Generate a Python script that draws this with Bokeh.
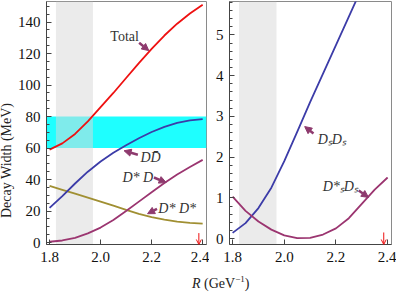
from bokeh.plotting import figure
from bokeh.models import (Range1d, SingleIntervalTicker, FixedTicker, PrintfTickFormatter,
                          Arrow, NormalHead, OpenHead, Div, BoxAnnotation)
from bokeh.layouts import row, column
from bokeh.core.properties import value
from bokeh.embed import file_html
from bokeh.resources import INLINE

# ---------------- data ----------------
R = [1.80, 1.85, 1.90, 1.95, 2.00, 2.05, 2.10, 2.15, 2.20, 2.25, 2.30, 2.35, 2.40]
total =       [59.0, 63.0, 69.0, 77.0, 86.0, 95.0, 104.5, 114.0, 123.0, 131.5, 139.0, 145.5, 151.0]
dd_bar =      [22.0, 29.5, 37.5, 45.0, 51.5, 57.0, 61.8, 66.2, 70.2, 73.5, 76.0, 77.6, 78.4]
dstar_d =     [0.5, 1.3, 3.0, 5.8, 9.5, 14.3, 20.0, 26.0, 32.0, 37.8, 43.2, 48.0, 52.5]
dstar_dstar = [36.0, 33.5, 31.0, 28.5, 26.0, 23.4, 20.7, 18.2, 16.2, 14.6, 13.3, 12.5, 12.0]
ds_ds =       [0.14, 0.38, 0.75, 1.25, 1.90, 2.62, 3.35, 4.05, 4.75, 5.45, 6.15, 6.80, 7.40]
dsstar_ds =   [1.03, 0.68, 0.42, 0.22, 0.08, 0.01, 0.02, 0.10, 0.25, 0.50, 0.85, 1.20, 1.50]

x_ticks = [1.8, 2.0, 2.2, 2.4]
exp_band = [60, 80]          # cyan band (MeV)
r_band = [1.825, 1.97]       # gray band in R
r_mark = 2.385               # red arrow position

# label annotations: (text, x, y) and arrows (x0, y0, x1, y1)
total_label = ("Total", 2.094, 130.6)
total_arrow = (2.151, 126.9, 2.189, 121.9)
left_labels = [("DD\u0304", 2.196, 53.8), ("D* D", 2.146, 41.3), ("D* D*", 2.300, 21.4)]
left_arrows = [(2.146, 55.8, 2.092, 58.3), (2.209, 41.3, 2.257, 38.1), (2.221, 21.4, 2.184, 18.3)]
right_labels = [("D\u209bD\u209b", 2.184, 2.44), ("D*\u209bD\u209b", 2.217, 1.28)]
right_arrows = [(2.113, 2.58, 2.079, 2.75), (2.288, 1.18, 2.326, 1.01)]

# ---------------- styles ----------------
RED = "#EE1111"
BLUE = "#3C3CA8"
PURPLE = "#9B3570"
OLIVE = "#A08F32"
ANN = "#8E3A6E"
FONT = "Times New Roman"


def style(p, y_ticker):
    p.toolbar_location = None
    p.grid.visible = False
    p.outline_line_color = "#8a8a8a"
    p.outline_line_width = 1
    p.background_fill_color = "white"
    p.border_fill_color = "white"
    for ax in (p.xaxis[0], p.yaxis[0]):
        ax.axis_line_color = "#444444"
        ax.major_tick_in = 5
        ax.major_tick_out = 0
        ax.minor_tick_in = 3
        ax.minor_tick_out = 0
        ax.major_tick_line_color = "#444444"
        ax.minor_tick_line_color = "#444444"
        ax.major_label_text_font = FONT
        ax.major_label_text_font_size = "15px"
        ax.major_label_text_color = "#111111"
    p.xaxis[0].major_label_standoff = 7
    p.yaxis[0].major_label_standoff = 6
    p.xaxis[0].ticker = FixedTicker(ticks=x_ticks, minor_ticks=[])
    p.xaxis[0].formatter = PrintfTickFormatter(format="%.1f")
    p.yaxis[0].ticker = y_ticker


def arrow(p, a, color=ANN):
    x0, y0, x1, y1 = a
    p.add_layout(Arrow(x_start=x0, y_start=y0, x_end=x1, y_end=y1,
                       line_color=color, line_width=2.5,
                       end=NormalHead(size=7, fill_color=color, line_color=color, line_width=1)))


XR = (1.788, 2.415)
H = 268

# ---------------- left panel ----------------
p1 = figure(width=195, height=H, output_backend="svg", toolbar_location=None,
            x_range=Range1d(*XR), y_range=Range1d(-1.25, 153.1),
            min_border_left=32, min_border_right=3, min_border_top=1, min_border_bottom=24)
style(p1, SingleIntervalTicker(interval=20, num_minor_ticks=4))

p1.add_layout(BoxAnnotation(bottom=exp_band[0], top=exp_band[1], fill_color="#1EFFFF",
                            fill_alpha=1.0, line_alpha=0, level="underlay"))
p1.add_layout(BoxAnnotation(left=r_band[0], right=r_band[1], fill_color="#D9D9D9",
                            fill_alpha=0.52, line_alpha=0, level="underlay"))

p1.line(R, dstar_dstar, line_color=OLIVE, line_width=1.8)
p1.line(R, dstar_d, line_color=PURPLE, line_width=1.8)
p1.line(R, dd_bar, line_color=BLUE, line_width=1.8)
p1.line(R, total, line_color=RED, line_width=1.8)

p1.text(x=[total_label[1]], y=[total_label[2]], text=[total_label[0]],
        text_font=value(FONT), text_font_size="14px", text_color="#333333",
        text_align="center", text_baseline="middle")
p1.text(x=[l[1] for l in left_labels], y=[l[2] for l in left_labels], text=[l[0] for l in left_labels],
        text_font=value(FONT), text_font_style="italic", text_font_size="14px", text_color="#333333",
        text_align="center", text_baseline="middle")
arrow(p1, total_arrow)
for a in left_arrows:
    arrow(p1, a)
p1.add_layout(Arrow(x_start=r_mark, y_start=6.0, x_end=r_mark, y_end=-1.25,
                    line_color=RED, line_width=1,
                    end=OpenHead(size=5, line_color=RED, line_width=1)))

# ---------------- right panel ----------------
p2 = figure(width=187, height=H, output_backend="svg", toolbar_location=None,
            x_range=Range1d(*XR), y_range=Range1d(-0.145, 5.82),
            min_border_left=20, min_border_right=5, min_border_top=1, min_border_bottom=24)
style(p2, SingleIntervalTicker(interval=1, num_minor_ticks=5))
p2.add_layout(BoxAnnotation(left=r_band[0], right=r_band[1], fill_color="#D9D9D9",
                            fill_alpha=0.52, line_alpha=0, level="underlay"))
p2.line(R, ds_ds, line_color=BLUE, line_width=1.8)
p2.line(R, dsstar_ds, line_color=PURPLE, line_width=1.8)
p2.text(x=[l[1] for l in right_labels], y=[l[2] for l in right_labels], text=[l[0] for l in right_labels],
        text_font=value(FONT), text_font_style="italic", text_font_size="14px", text_color="#333333",
        text_align="center", text_baseline="middle")
for a in right_arrows:
    arrow(p2, a)
p2.add_layout(Arrow(x_start=r_mark, y_start=0.15, x_end=r_mark, y_end=-0.145,
                    line_color=RED, line_width=1,
                    end=OpenHead(size=5, line_color=RED, line_width=1)))

ylabel = Div(text='<div style="writing-mode:vertical-rl;transform:translateY(26px) rotate(180deg);'
                  'font-family:\'Times New Roman\';font-size:14px;line-height:14px;color:#222;'
                  'white-space:nowrap;height:268px;width:14px;text-align:center">Decay Width (MeV)</div>',
             width=14, height=H, margin=0)

xlabel = Div(text='<div style="margin-left:192px;margin-top:9px;font-family:\'Times New Roman\';font-size:14px;'
                  'color:#222;white-space:nowrap;line-height:14px"><i>R</i> (GeV<sup style="font-size:9px;line-height:0">\u22121</sup>)</div>',
             width=398, height=25, margin=0)

layout = column(row(ylabel, p1, p2, spacing=0), xlabel, spacing=0)

with open("out.html", "w") as f:
    f.write(file_html(layout, INLINE))
